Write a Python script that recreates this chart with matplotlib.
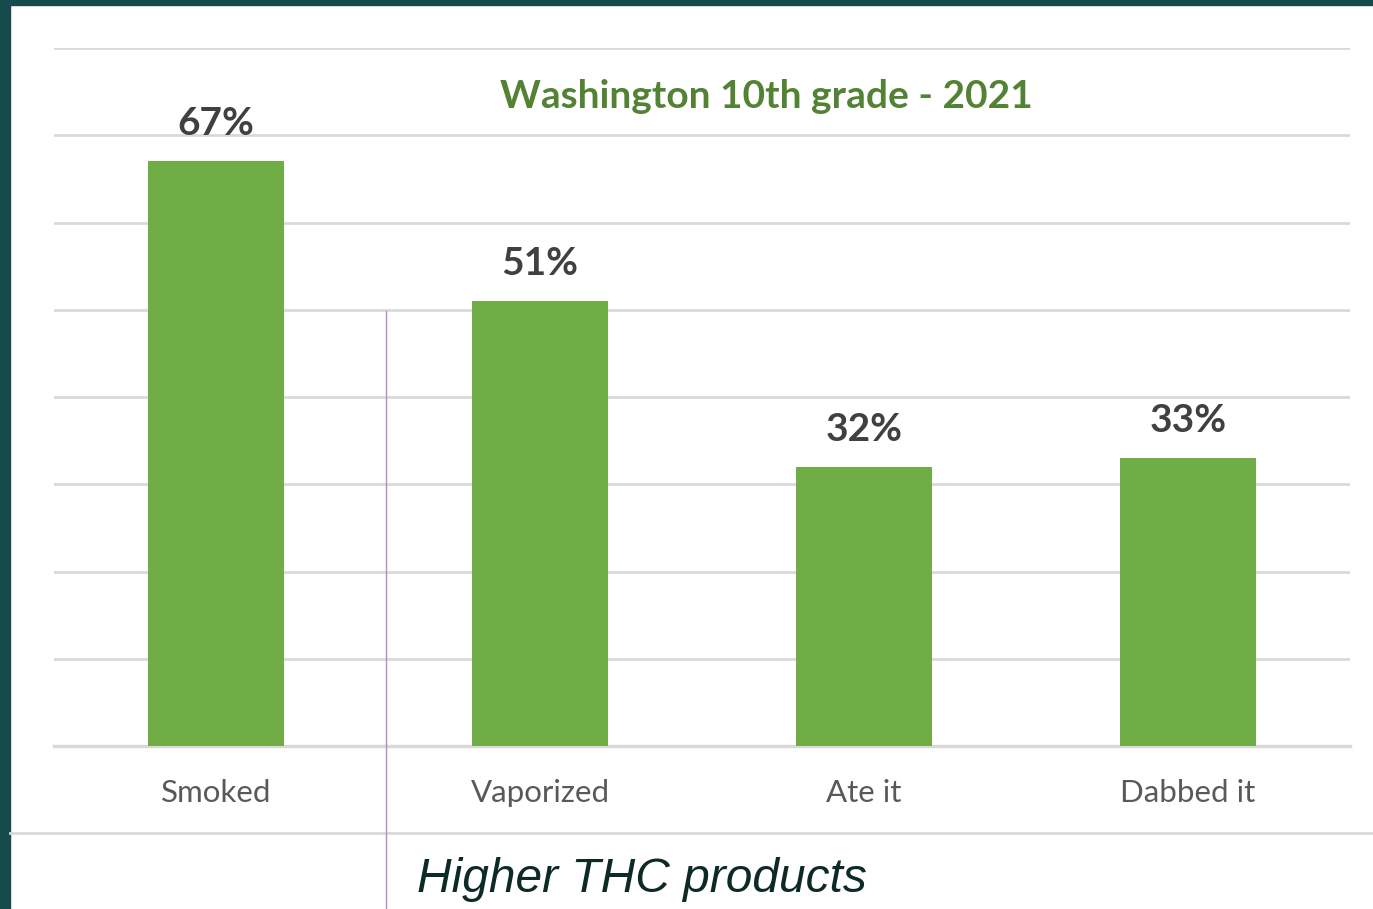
import matplotlib.pyplot as plt
from matplotlib.patches import Rectangle
from matplotlib.lines import Line2D

# data
categories = ["Smoked", "Vaporized", "Ate it", "Dabbed it"]
values = [67, 51, 32, 33]
title = "Washington 10th grade - 2021"
note = "Higher THC products"

W, H = 1373, 909
fig = plt.figure(figsize=(W / 100, H / 100), dpi=100)
fig.patch.set_facecolor("white")

# dark frame on top and left
fig.add_artist(Rectangle((0, 1 - 5 / H), 1, 5 / H, transform=fig.transFigure,
                         color="#174a4a", zorder=0))
fig.add_artist(Rectangle((0, 0), 10 / W, 1, transform=fig.transFigure,
                         color="#174a4a", zorder=0))

ax = fig.add_axes([54 / W, 1 - 746 / H, (1350 - 54) / W, (746 - 48) / H])
x = range(len(categories))
bars = ax.bar(x, values, width=0.42, color="#70AD47", zorder=3)

ax.set_xlim(-0.5, len(categories) - 0.5)
ax.set_ylim(0, 80)
ax.set_yticks(range(0, 81, 10))
ax.yaxis.grid(True, color="#D9D9D9", linewidth=2)
ax.axhline(0, color="#D9D9D9", linewidth=2.5, clip_on=False, zorder=2)
ax.set_axisbelow(True)
for s in ax.spines.values():
    s.set_visible(False)
ax.tick_params(axis="y", left=False, labelleft=False)
ax.tick_params(axis="x", bottom=False, pad=20)
ax.set_xticks(list(x))
ax.set_xticklabels(categories, fontsize=22.5, color="#595959", family="Lato")

for b, v in zip(bars, values):
    ax.text(b.get_x() + b.get_width() / 2, v + 2.3, f"{v}%", ha="center",
            va="bottom", fontsize=28, fontweight="bold", color="#404040",
            family="Lato")

fig.text(766 / W, 1 - 96 / H, title, ha="center", va="center", fontsize=28,
         fontweight="bold", color="#548235", family="Lato")

# separator and bracket line
fig.add_artist(Line2D([10 / W, 1], [1 - 833 / H] * 2, transform=fig.transFigure,
                      color="#D9D9D9", linewidth=2))
fig.add_artist(Line2D([386 / W] * 2, [0, 1 - 311 / H], transform=fig.transFigure,
                      color="#B48CC8", linewidth=1))
fig.text(417 / W, 1 - 880 / H, note, ha="left", va="center", fontsize=34.5,
         style="italic", color="#0d2a26", family="Liberation Sans")

fig.savefig("out.png", dpi=100)
